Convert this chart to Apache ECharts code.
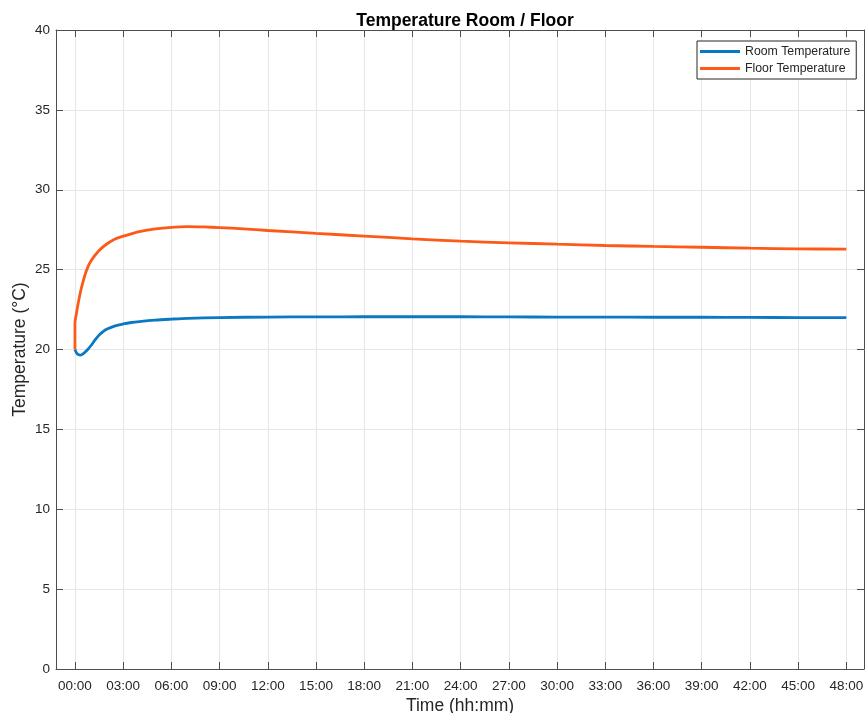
<!DOCTYPE html>
<html>
<head>
<meta charset="utf-8">
<script src="https://cdn.jsdelivr.net/npm/echarts@6/dist/echarts.min.js"></script>
<style>
  html, body { margin: 0; padding: 0; background: #fff; }
  #chart { width: 865px; height: 713px; }
</style>
</head>
<body>
<div id="chart"></div>
<script>
// hours since start
const roomTime = [0, 0.1, 0.2, 0.35, 0.5, 0.75, 1, 1.25, 1.5, 1.75, 2, 2.5, 3, 3.5, 4, 5, 6, 7, 9, 12, 15, 18, 21, 24, 27, 30, 33, 36, 39, 42, 45, 48]
const roomTemp = [20.0, 19.78, 19.68, 19.65, 19.72, 19.95, 20.25, 20.6, 20.9, 21.12, 21.28, 21.48, 21.6, 21.69, 21.75, 21.84, 21.9, 21.95, 22.0, 22.03, 22.04, 22.05, 22.05, 22.05, 22.04, 22.03, 22.03, 22.02, 22.02, 22.01, 22.0, 22.0]

const floorTime = [0, 0, 0.1, 0.2, 0.4, 0.7, 1, 1.5, 2, 2.5, 3, 3.5, 4, 5, 6, 7, 8, 9, 10.5, 12, 15, 18, 21, 24, 27, 30, 33, 36, 39, 42, 45, 48]
const floorTemp = [20.0, 21.65, 22.3, 22.9, 23.85, 24.9, 25.55, 26.2, 26.62, 26.92, 27.1, 27.24, 27.38, 27.55, 27.65, 27.69, 27.67, 27.63, 27.55, 27.45, 27.27, 27.1, 26.93, 26.78, 26.68, 26.59, 26.51, 26.45, 26.4, 26.34, 26.3, 26.28]

const hourTicks = [0, 3, 6, 9, 12, 15, 18, 21, 24, 27, 30, 33, 36, 39, 42, 45, 48]

const font = 'Liberation Sans, Arial, Helvetica, sans-serif'
const axisColor = '#4d4d4d'
const textColor = '#262626'
const gridColor = '#e6e6e6'

function pairs (xs, ys) {
  return xs.map((x, i) => [x, ys[i]])
}

function hhmm (v) {
  return String(v).padStart(2, '0') + ':00'
}

const xBase = {
  type: 'value',
  min: -1.18,
  max: 49.1,
  axisLine: { show: true, onZero: false, lineStyle: { color: axisColor } },
  axisTick: { show: true, inside: true, length: 7, customValues: hourTicks, lineStyle: { color: axisColor } }
}

const yBase = {
  type: 'value',
  min: 0,
  max: 40,
  interval: 5,
  axisLine: { show: true, onZero: false, lineStyle: { color: axisColor } },
  axisTick: { show: true, inside: true, length: 7, lineStyle: { color: axisColor } }
}

const option = {
  animation: false,
  textStyle: { fontFamily: font },
  title: {
    text: 'Temperature Room / Floor',
    left: 460,
    top: 7,
    textAlign: 'center',
    textStyle: { fontFamily: font, fontSize: 17.5, fontWeight: 'bold', color: '#000' }
  },
  legend: {
    orient: 'vertical',
    left: 697,
    top: 41,
    padding: [4, 6, 4, 3],
    itemWidth: 40,
    itemHeight: 3,
    itemGap: 4,
    icon: 'rect',
    borderColor: '#262626',
    borderWidth: 1,
    backgroundColor: '#fff',
    textStyle: { fontFamily: font, fontSize: 12.3, lineHeight: 13, color: textColor },
    data: ['Room Temperature', 'Floor Temperature']
  },
  grid: {
    left: 56,
    right: 1,
    top: 30,
    bottom: 44,
    containLabel: false,
    outerBoundsMode: 'none'
  },
  xAxis: [
    Object.assign({}, xBase, {
      position: 'bottom',
      name: 'Time (hh:mm)',
      nameLocation: 'middle',
      nameGap: 28,
      nameMoveOverlap: false,
      nameTextStyle: { fontFamily: font, fontSize: 17.5, color: textColor },
      axisLabel: {
        customValues: hourTicks,
        formatter: hhmm,
        margin: 10,
        fontFamily: font,
        fontSize: 13.5,
        color: textColor
      },
      splitLine: { show: true, lineStyle: { color: gridColor, width: 1 } }
    }),
    Object.assign({}, xBase, {
      position: 'top',
      axisLabel: { show: false },
      splitLine: { show: false }
    })
  ],
  yAxis: [
    Object.assign({}, yBase, {
      position: 'left',
      name: 'Temperature (°C)',
      nameLocation: 'middle',
      nameGap: 27,
      nameMoveOverlap: false,
      nameTextStyle: { fontFamily: font, fontSize: 17.5, color: textColor },
      axisLabel: { margin: 6, fontFamily: font, fontSize: 13.5, color: textColor },
      splitLine: { show: true, lineStyle: { color: gridColor, width: 1 } }
    }),
    Object.assign({}, yBase, {
      position: 'right',
      axisLabel: { show: false },
      splitLine: { show: false }
    })
  ],
  series: [
    {
      name: 'Room Temperature',
      type: 'line',
      showSymbol: false,
      symbol: 'none',
      smooth: 0.3,
      color: '#0a78c2',
      lineStyle: { width: 2.8, color: '#0a78c2' },
      data: pairs(roomTime, roomTemp)
    },
    {
      name: 'Floor Temperature',
      type: 'line',
      showSymbol: false,
      symbol: 'none',
      smooth: 0.3,
      color: '#fd5a18',
      lineStyle: { width: 2.8, color: '#fd5a18' },
      data: pairs(floorTime, floorTemp)
    }
  ]
}

const chart = echarts.init(document.getElementById('chart'))
chart.setOption(option)
</script>
</body>
</html>
